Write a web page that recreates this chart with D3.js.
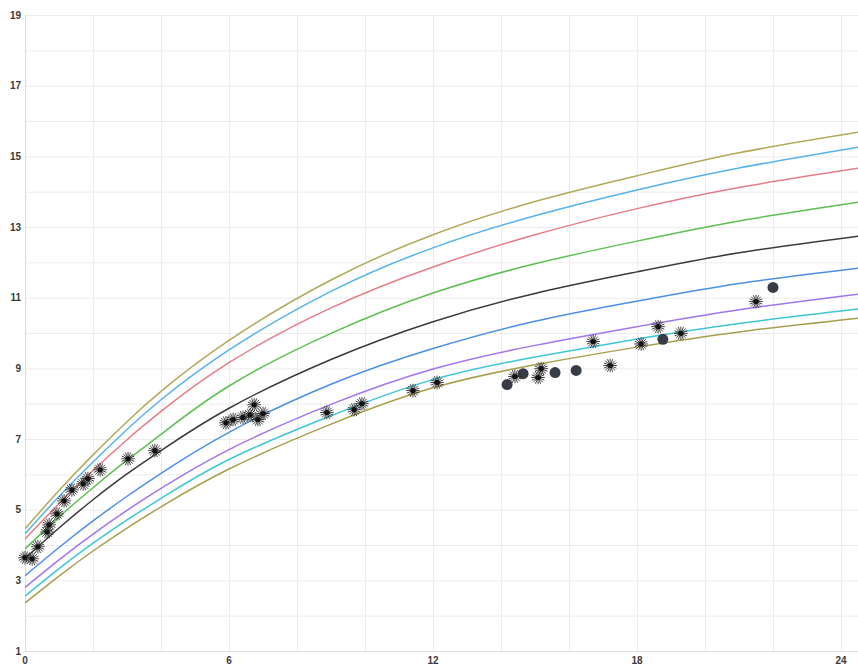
<!DOCTYPE html>
<html>
<head>
<meta charset="utf-8">
<script src="https://cdn.jsdelivr.net/npm/d3@7"></script>
<style>
  html, body { margin: 0; padding: 0; background: #fff; }
  svg { display: block; }
  .tick-label { font-family: "Liberation Sans", Arial, sans-serif; font-size: 10px; font-weight: bold; fill: #3a3a3a; }
</style>
</head>
<body>
<svg id="chart" width="858" height="664"></svg>
<script>
// ---- data (months, weight in kg) ----
const months = [0, 1, 2, 3, 4, 6, 9, 12, 15, 18, 21, 24.5];
const p97 = [4.46, 5.54, 6.55, 7.49, 8.35, 9.79, 11.5, 12.78, 13.72, 14.45, 15.1, 15.68];
const p95 = [4.32, 5.37, 6.35, 7.27, 8.11, 9.52, 11.18, 12.41, 13.32, 14.05, 14.67, 15.26];
const p90 = [4.17, 5.17, 6.11, 6.98, 7.78, 9.16, 10.71, 11.87, 12.78, 13.52, 14.12, 14.66];
const p75 = [3.89, 4.79, 5.62, 6.4, 7.13, 8.5, 9.99, 11.13, 11.96, 12.6, 13.17, 13.70];
const p50 = [3.62, 4.48, 5.28, 6.01, 6.67, 7.87, 9.25, 10.32, 11.12, 11.73, 12.27, 12.74];
const p25 = [3.13, 3.93, 4.68, 5.38, 6.03, 7.19, 8.55, 9.56, 10.33, 10.9, 11.4, 11.83];
const p10 = [2.8, 3.58, 4.31, 4.98, 5.6, 6.7, 7.98, 8.98, 9.65, 10.18, 10.66, 11.1];
const p5  = [2.55, 3.33, 4.05, 4.71, 5.32, 6.42, 7.66, 8.68, 9.32, 9.83, 10.27, 10.68];
const p3  = [2.36, 3.12, 3.83, 4.48, 5.08, 6.15, 7.42, 8.45, 9.1, 9.6, 10.03, 10.42];

const seriesNames  = ["p3", "p5", "p10", "p25", "p50", "p75", "p90", "p95", "p97"];
const seriesValues = [p3, p5, p10, p25, p50, p75, p90, p95, p97];
const seriesColors = ["#a99e4c", "#3ec6d6", "#a274f2", "#4b8fe6", "#3a3a3a", "#5dbf52", "#e67c88", "#56b2ee", "#b3a85a"];

// measurements: asterisk markers
const starMonths = [0.0, 0.21, 0.38, 0.65, 0.71, 0.94, 1.15, 1.38, 1.71, 1.85, 2.21, 3.03, 3.82,
  5.91, 6.12, 6.41, 6.62, 6.74, 6.85, 7.0, 8.88, 9.68, 9.91, 11.41, 12.12,
  14.41, 15.09, 15.18, 16.71, 17.21, 18.12, 18.62, 19.29, 21.5];
const starWeights = [3.64, 3.61, 3.95, 4.37, 4.57, 4.88, 5.25, 5.56, 5.73, 5.88, 6.13, 6.44, 6.67,
  7.46, 7.55, 7.61, 7.68, 7.97, 7.55, 7.72, 7.75, 7.83, 8.0, 8.37, 8.60,
  8.77, 8.74, 8.99, 9.76, 9.08, 9.69, 10.18, 9.99, 10.89];
// measurements: circle markers
const dotMonths  = [14.18, 14.65, 15.59, 16.21, 18.76, 22.0];
const dotWeights = [8.54, 8.85, 8.88, 8.94, 9.82, 11.29];

const xTickLabels = [0, 6, 12, 18, 24];
const yTickLabels = [1, 3, 5, 7, 9, 11, 13, 15, 17, 19];

// ---- layout ----
const plotLeft = 25, plotRight = 858, plotTop = 15, plotBottom = 651;
const x = d3.scaleLinear().domain([0, 24]).range([plotLeft, 841]);
const y = d3.scaleLinear().domain([1, 19]).range([plotBottom, plotTop]);

const svg = d3.select("#chart");

svg.append("defs").append("clipPath").attr("id", "plotclip")
  .append("rect").attr("x", plotLeft).attr("y", plotTop - 1)
  .attr("width", plotRight - plotLeft).attr("height", plotBottom - plotTop + 2);

// grid
const grid = svg.append("g");
grid.selectAll("line.h").data(d3.range(1, 20)).enter().append("line")
  .attr("x1", plotLeft).attr("x2", plotRight)
  .attr("y1", d => y(d) + 0.5).attr("y2", d => y(d) + 0.5)
  .attr("stroke", d => d === 1 ? "#dcdcdc" : "#ececec").attr("stroke-width", 1);
grid.selectAll("line.v").data(d3.range(0, 26, 2)).enter().append("line")
  .attr("y1", plotTop).attr("y2", plotBottom)
  .attr("x1", d => x(d) + 0.5).attr("x2", d => x(d) + 0.5)
  .attr("stroke", d => d === 0 ? "#dcdcdc" : "#ececec").attr("stroke-width", 1);

// tick labels
svg.append("g").selectAll("text").data(yTickLabels).enter().append("text")
  .attr("class", "tick-label").attr("x", 21).attr("y", d => y(d)).attr("dy", "0.35em")
  .attr("text-anchor", "end").text(d => d);
svg.append("g").selectAll("text").data(xTickLabels).enter().append("text")
  .attr("class", "tick-label").attr("x", d => x(d)).attr("y", 660).attr("dy", "0.35em")
  .attr("text-anchor", "middle").text(d => d);

// percentile curves
const line = d3.line().x(d => x(d[0])).y(d => y(d[1])).curve(d3.curveNatural);
const curves = svg.append("g").attr("clip-path", "url(#plotclip)");
seriesValues.forEach((vals, i) => {
  curves.append("path")
    .datum(months.map((m, j) => [m, vals[j]]))
    .attr("fill", "none")
    .attr("stroke", seriesColors[i])
    .attr("stroke-width", 1.5)
    .attr("d", line);
});

// circle markers
svg.append("g").selectAll("circle").data(dotMonths.map((m, i) => [m, dotWeights[i]])).enter()
  .append("circle")
  .attr("cx", d => x(d[0])).attr("cy", d => y(d[1])).attr("r", 5.5)
  .attr("fill", "#383d45");

// asterisk markers
const stars = svg.append("g");
const starData = starMonths.map((m, i) => [m, starWeights[i]]);
const spokes = d3.range(0, 180, 22.5);
starData.forEach(d => {
  const g = stars.append("g").attr("transform", `translate(${x(d[0])},${y(d[1])})`);
  spokes.forEach(a => {
    const r = 6.8, rad = a * Math.PI / 180;
    g.append("line")
      .attr("x1", -r * Math.cos(rad)).attr("y1", -r * Math.sin(rad))
      .attr("x2", r * Math.cos(rad)).attr("y2", r * Math.sin(rad))
      .attr("stroke", "#2a2a2a").attr("stroke-width", 0.9);
  });
  g.append("circle").attr("r", 2.6).attr("fill", "#111");
});
</script>
</body>
</html>
